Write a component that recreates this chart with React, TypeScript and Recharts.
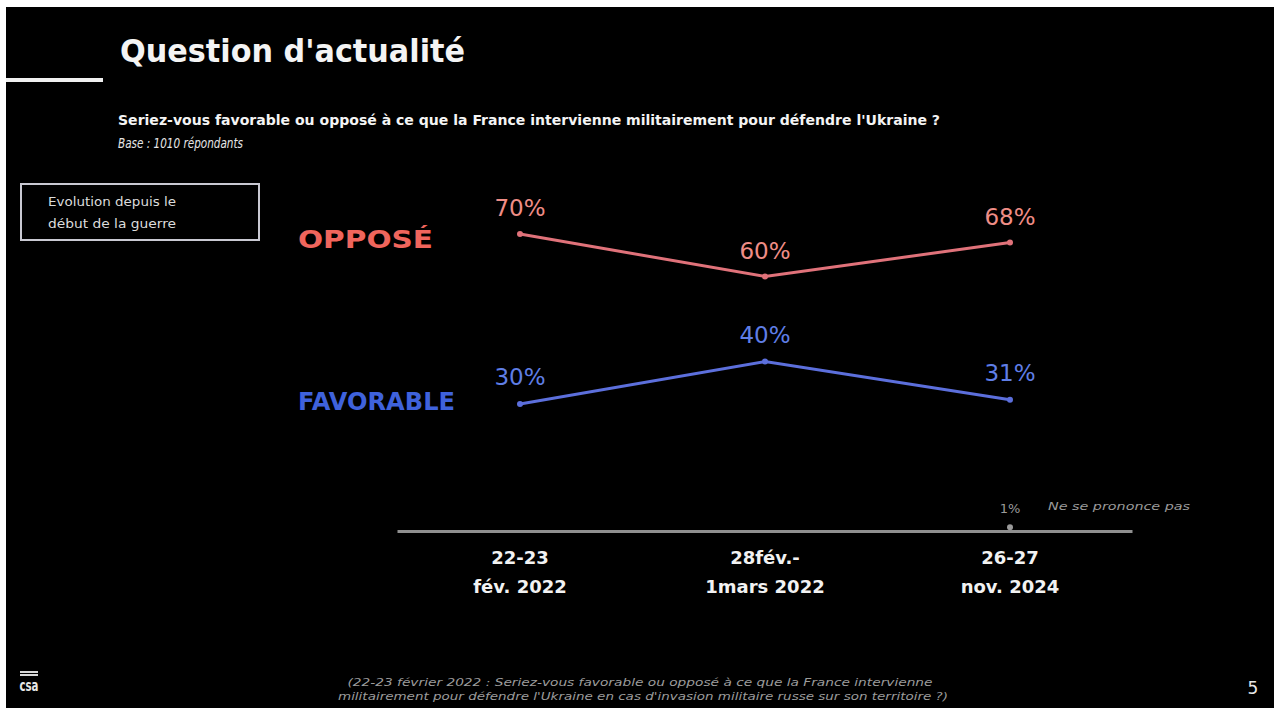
import { LabelList, Line, LineChart, XAxis, YAxis } from "recharts";

const periodTop = ["22-23", "28fév.-", "26-27"];
const periodBottom = ["fév. 2022", "1mars 2022", "nov. 2024"];
const opposeValues = [70, 60, 68];
const favorableValues = [30, 40, 31];
const nspValues: (number | null)[] = [null, null, 1];

const FONT = "'DejaVu Sans', sans-serif";
const RED_LINE = "#e0727a";
const RED_LABEL = "#ef8d86";
const RED_TITLE = "#f0655c";
const BLUE_LINE = "#5c6fdc";
const BLUE_LABEL = "#5f7ee6";
const BLUE_TITLE = "#3f62dc";
const GREY = "#9a9a9a";

const data = periodTop.map((label, i) => ({
  label,
  oppose: opposeValues[i],
  favorable: favorableValues[i],
  nsp: nspValues[i],
}));

function PeriodTick(props: any) {
  const { x, y, payload } = props;
  const idx = payload.index;
  return (
    <g>
      <text x={x} y={y + 32} textAnchor="middle" fill="#f2f2f2" fontSize={18} fontWeight={700} fontFamily={FONT}>
        {payload.value}
      </text>
      <text x={x} y={y + 61} textAnchor="middle" fill="#f2f2f2" fontSize={18} fontWeight={700} fontFamily={FONT}>
        {periodBottom[idx]}
      </text>
    </g>
  );
}

function valueLabel(color: string, lift: number) {
  return (props: any) => {
    const { x, y, value } = props;
    if (value == null || x == null || y == null) return null;
    return (
      <text x={x} y={y - lift} textAnchor="middle" dominantBaseline="central" fill={color} fontSize={23} fontFamily={FONT}>
        {value}%
      </text>
    );
  };
}

function NspLabel(props: any) {
  const { x, y, value } = props;
  if (value == null || x == null || y == null) return null;
  return (
    <g>
      <text x={x} y={y - 19} textAnchor="middle" dominantBaseline="central" fill={GREY} fontSize={13} fontFamily={FONT}>
        {value}%
      </text>
      <text x={x + 38} y={y - 21} dominantBaseline="central" fill={GREY} fontSize={11} fontStyle="italic" fontFamily={FONT} textLength={142} lengthAdjust="spacingAndGlyphs">
        Ne se prononce pas
      </text>
    </g>
  );
}

export default function App() {
  return (
    <div style={{ position: "absolute", left: 0, top: 0, width: 1274, height: 708, background: "#ffffff" }}>
      <div style={{ position: "absolute", left: 6, top: 7, width: 1268, height: 701, background: "#000000" }} />
      <LineChart
        width={1274}
        height={708}
        data={data}
        margin={{ top: 106.5, right: 141.5, bottom: 116.5, left: 397.5 }}
        style={{ position: "absolute", left: 0, top: 0 }}
      >
        <YAxis hide width={0} domain={[0, 100]} />
        <XAxis
          dataKey="label"
          height={60}
          padding={{ left: 122.5, right: 122.5 }}
          axisLine={{ stroke: "#8f8f8f", strokeWidth: 3 }}
          tickLine={false}
          tickSize={0}
          tickMargin={0}
          tick={<PeriodTick />}
          interval={0}
        />
        <Line
          dataKey="oppose"
          stroke={RED_LINE}
          strokeWidth={3}
          dot={{ r: 3, fill: RED_LINE, stroke: "none" }}
          activeDot={false}
          isAnimationActive={false}
        >
          <LabelList dataKey="oppose" content={valueLabel(RED_LABEL, 26)} />
        </Line>
        <Line
          dataKey="favorable"
          stroke={BLUE_LINE}
          strokeWidth={3}
          dot={{ r: 3, fill: BLUE_LINE, stroke: "none" }}
          activeDot={false}
          isAnimationActive={false}
        >
          <LabelList dataKey="favorable" content={valueLabel(BLUE_LABEL, 27)} />
        </Line>
        <Line
          dataKey="nsp"
          stroke="none"
          dot={{ r: 3, fill: GREY, stroke: "none" }}
          activeDot={false}
          isAnimationActive={false}
        >
          <LabelList dataKey="nsp" content={<NspLabel />} />
        </Line>
      </LineChart>
      <svg width={1274} height={708} style={{ position: "absolute", left: 0, top: 0, pointerEvents: "none" }} fontFamily={FONT}>
        <text x={120} y={62} fill="#f4f4f4" fontSize={32} fontWeight={700} textLength={345} lengthAdjust="spacingAndGlyphs">
          Question d'actualité
        </text>
        <rect x={6} y={78} width={97} height={4} fill="#f0f0f0" />
        <text x={118} y={125} fill="#f4f4f4" fontSize={14} fontWeight={700} textLength={822} lengthAdjust="spacingAndGlyphs">
          Seriez-vous favorable ou opposé à ce que la France intervienne militairement pour défendre l'Ukraine ?
        </text>
        <text x={118} y={148} fill="#e6e6e6" fontSize={14} fontStyle="italic" textLength={125} lengthAdjust="spacingAndGlyphs">
          Base : 1010 répondants
        </text>
        <rect x={21} y={184} width={238} height={56} fill="none" stroke="#c9c9d2" strokeWidth={2} />
        <text x={48} y={206} fill="#dcdcdc" fontSize={13} textLength={128} lengthAdjust="spacingAndGlyphs">
          Evolution depuis le
        </text>
        <text x={48} y={228} fill="#dcdcdc" fontSize={13} textLength={128} lengthAdjust="spacingAndGlyphs">
          début de la guerre
        </text>
        <text x={298} y={248} fill={RED_TITLE} fontSize={24} fontWeight={700} textLength={135} lengthAdjust="spacingAndGlyphs">
          OPPOSÉ
        </text>
        <text x={298} y={410} fill={BLUE_TITLE} fontSize={24} fontWeight={700} textLength={157} lengthAdjust="spacingAndGlyphs">
          FAVORABLE
        </text>
        <text x={640} y={686} textAnchor="middle" fill="#9c9c9c" fontSize={10} fontStyle="italic" textLength={585} lengthAdjust="spacingAndGlyphs">
          (22-23 février 2022 : Seriez-vous favorable ou opposé à ce que la France intervienne
        </text>
        <text x={643} y={700} textAnchor="middle" fill="#9c9c9c" fontSize={10} fontStyle="italic" textLength={610} lengthAdjust="spacingAndGlyphs">
          militairement pour défendre l'Ukraine en cas d'invasion militaire russe sur son territoire ?)
        </text>
        <rect x={20} y={671} width={18} height={2} fill="#d8d8d8" />
        <rect x={20} y={674} width={18} height={2} fill="#d8d8d8" />
        <text x={29} y={691} textAnchor="middle" fill="#e8e8e8" fontSize={16} fontWeight={700} textLength={19} lengthAdjust="spacingAndGlyphs">
          csa
        </text>
        <text x={1253} y={694} textAnchor="middle" fill="#e8e8e8" fontSize={17}>
          5
        </text>
      </svg>
    </div>
  );
}
